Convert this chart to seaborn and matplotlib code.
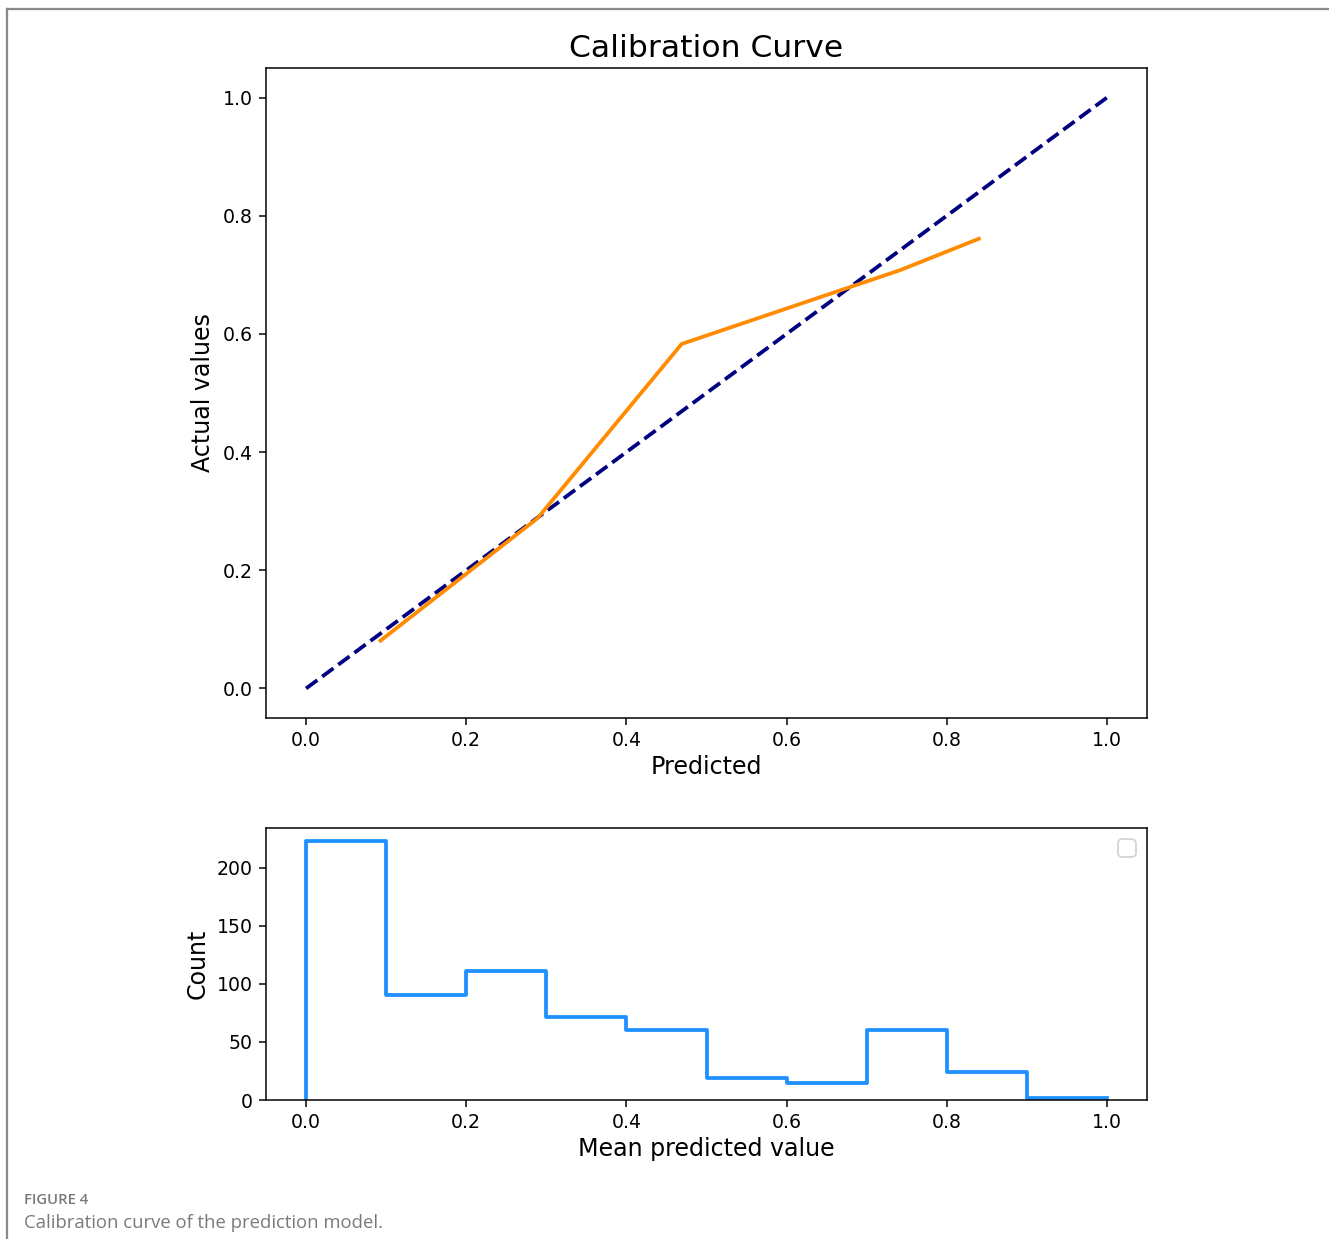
import numpy as np
import pandas as pd
import matplotlib
matplotlib.use("Agg")
import matplotlib.pyplot as plt
from matplotlib.lines import Line2D
import seaborn as sns

# Calibration curve data
pred_mean = [0.093, 0.289, 0.469, 0.742, 0.840]
frac_pos = [0.081, 0.288, 0.583, 0.708, 0.761]
diag = [0.0, 1.0]

# Histogram of predicted values (bin counts)
bin_edges = [0.0, 0.1, 0.2, 0.3, 0.4, 0.5, 0.6, 0.7, 0.8, 0.9, 1.0]
bin_counts = [223, 90, 111, 71, 60, 19, 15, 60, 24, 2]

DPI = 136
fig = plt.figure(figsize=(1329 / DPI, 1239 / DPI), dpi=DPI)
fig.patch.set_facecolor("white")

W, H = 1329, 1239
ax1 = fig.add_axes([266 / W, 1 - 718 / H, (1147 - 266) / W, (718 - 68) / H])
ax2 = fig.add_axes([266 / W, 1 - 1100 / H, (1147 - 266) / W, (1100 - 828) / H])

# Top: calibration curve
sns.lineplot(x=diag, y=diag, ax=ax1, color="navy", lw=2, linestyle="--")
sns.lineplot(x=pred_mean, y=frac_pos, ax=ax1, color="darkorange", lw=2)
ax1.set_xlim(-0.05, 1.05)
ax1.set_ylim(-0.05, 1.05)
ax1.set_title("Calibration Curve", fontsize=16.6)
ax1.set_xlabel("Predicted", fontsize=12.6, labelpad=2.5)
ax1.set_ylabel("Actual values", fontsize=12.6)
ax1.set_xticks([0.0, 0.2, 0.4, 0.6, 0.8, 1.0])
ax1.set_yticks([0.0, 0.2, 0.4, 0.6, 0.8, 1.0])

# Bottom: histogram
centers = [(bin_edges[i] + bin_edges[i + 1]) / 2 for i in range(len(bin_counts))]
df = pd.DataFrame({"pred": centers, "count": bin_counts})
sns.histplot(data=df, x="pred", weights="count", bins=bin_edges, element="step",
             fill=False, color="dodgerblue", lw=2, ax=ax2)
# close the outline down to the baseline on the left, like a step histogram
step_line = ax2.lines[-1]
xs, ys = step_line.get_data()
step_line.set_data(np.r_[xs[0], xs], np.r_[0.0, ys])
ax2.set_xlim(-0.05, 1.05)
ax2.set_ylim(0, 234)
ax2.set_xticks([0.0, 0.2, 0.4, 0.6, 0.8, 1.0])
ax2.set_yticks([0, 50, 100, 150, 200])
ax2.set_xlabel("Mean predicted value", fontsize=12.6, labelpad=2.5)
ax2.set_ylabel("Count", fontsize=12.6)
ax2.legend(handles=[], loc="upper right", prop={"size": 12})

# Page frame and caption
fig.add_artist(Line2D([7 / W, 1.0], [1 - 9 / H, 1 - 9 / H], color="#8a8a8a", lw=1.2,
                      transform=fig.transFigure))
fig.add_artist(Line2D([7 / W, 7 / W], [1 - 9 / H, 0.0], color="#8a8a8a", lw=1.2,
                      transform=fig.transFigure))
fig.text(24 / W, 1 - 1200 / H, "FIGURE 4", fontsize=7.9, fontweight="semibold",
         color="#7a7a7a", family="Open Sans", va="center", ha="left")
fig.text(24 / W, 1 - 1223 / H, "Calibration curve of the prediction model.", fontsize=9.8,
         color="#7a7a7a", family="Open Sans", va="center", ha="left")

fig.savefig("out.png", dpi=DPI, facecolor="white")
